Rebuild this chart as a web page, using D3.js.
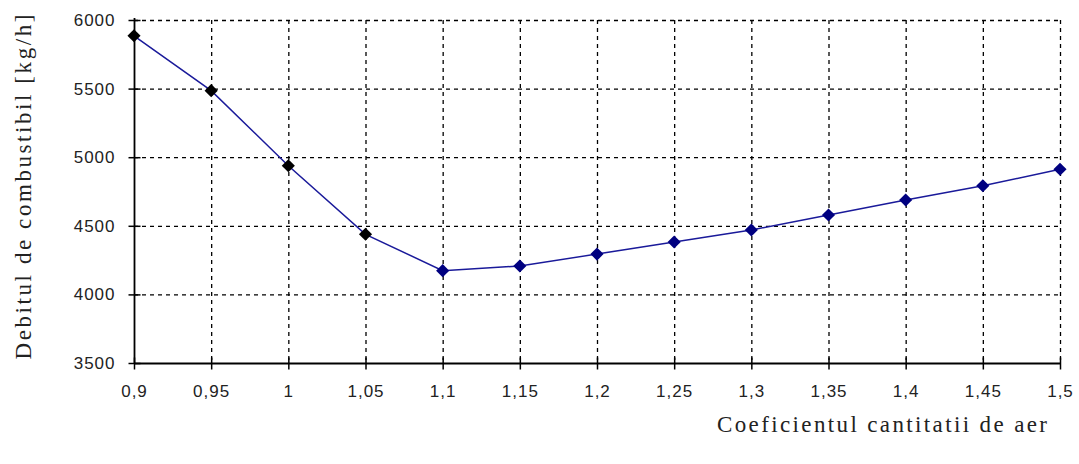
<!DOCTYPE html>
<html><head><meta charset="utf-8">
<script src="https://cdn.jsdelivr.net/npm/d3@7"></script>
<style>body{margin:0;background:#fff}</style>
</head><body>
<svg id="c" width="1079" height="464"></svg>
<script>
const xValues = [0.9,0.95,1,1.05,1.1,1.15,1.2,1.25,1.3,1.35,1.4,1.45,1.5];
const fuelFlow = [5885,5485,4938,4438,4173,4207,4294,4382,4469,4579,4688,4792,4912];
const xTickLabels = ["0,9","0,95","1","1,05","1,1","1,15","1,2","1,25","1,3","1,35","1,4","1,45","1,5"];
const yTicks = [3500,4000,4500,5000,5500,6000];
const blackMarkerCount = 4;

const svg = d3.select("#c");
const L=134, R=1060, T=20, B=363;
const x = d3.scalePoint().domain(xValues).range([L,R]);
const y = d3.scaleLinear().domain([3500,6000]).range([B,T]);

// grid
const g = svg.append("g");
g.selectAll(".gx").data(xValues.slice(1)).enter().append("line")
 .attr("x1",d=>x(d)+0.5).attr("x2",d=>x(d)+0.5).attr("y1",T).attr("y2",B)
 .attr("stroke","#000").attr("stroke-width",1.3).attr("stroke-dasharray","4,4");
g.selectAll(".gy").data(yTicks.slice(1)).enter().append("line")
 .attr("y1",d=>y(d)+0.5).attr("y2",d=>y(d)+0.5).attr("x1",L).attr("x2",R)
 .attr("stroke","#000").attr("stroke-width",1.3).attr("stroke-dasharray","4,4");

// axes
const xa = svg.append("g").attr("transform",`translate(0,${B+0.5})`)
 .call(d3.axisBottom(x).tickSize(0).tickFormat((d,i)=>xTickLabels[i]).tickPadding(21));
xa.select(".domain").remove();
xa.selectAll(".tick").append("line").attr("y1",-6).attr("y2",6).attr("stroke","#000").attr("stroke-width",1.5);
svg.append("line").attr("x1",L).attr("x2",R+1).attr("y1",B+0.5).attr("y2",B+0.5).attr("stroke","#000").attr("stroke-width",1.8);

const ya = svg.append("g").attr("transform",`translate(${L+0.5},0)`)
 .call(d3.axisLeft(y).tickValues(yTicks).tickSize(0).tickPadding(19).tickFormat(d3.format("d")));
ya.select(".domain").remove();
ya.selectAll(".tick").append("line").attr("x1",-6).attr("x2",6).attr("stroke","#000").attr("stroke-width",1.5);
svg.append("line").attr("x1",L+0.5).attr("x2",L+0.5).attr("y1",T-2).attr("y2",B).attr("stroke","#000").attr("stroke-width",1.8);

svg.selectAll(".tick text").attr("font-family","Liberation Sans, Arial, sans-serif").attr("font-size",17)
 .attr("letter-spacing",1).attr("fill","#222");

// line
svg.append("path").datum(xValues.map((v,i)=>[v,fuelFlow[i]]))
 .attr("d",d3.line().x(d=>x(d[0])).y(d=>y(d[1])))
 .attr("fill","none").attr("stroke","#1a1a9a").attr("stroke-width",1.5);

// markers
svg.selectAll(".m").data(xValues).enter().append("path")
 .attr("d",d3.symbol().type(d3.symbolDiamond2).size(110))
 .attr("transform",(d,i)=>`translate(${x(d)},${y(fuelFlow[i])})`)
 .attr("fill",(d,i)=>i<blackMarkerCount?"#000":"#000080");

// titles
svg.append("text").attr("transform","translate(31,187) rotate(-90)")
 .attr("text-anchor","middle").attr("font-family","Liberation Serif, Times New Roman, serif")
 .attr("font-size",23).attr("textLength",345).attr("lengthAdjust","spacing").attr("fill","#222")
 .text("Debitul de combustibil [kg/h]");
svg.append("text").attr("x",882).attr("y",432)
 .attr("text-anchor","middle").attr("font-family","Liberation Serif, Times New Roman, serif")
 .attr("font-size",23).attr("textLength",330).attr("lengthAdjust","spacing").attr("fill","#222")
 .text("Coeficientul cantitatii de aer");
</script>
</body></html>
